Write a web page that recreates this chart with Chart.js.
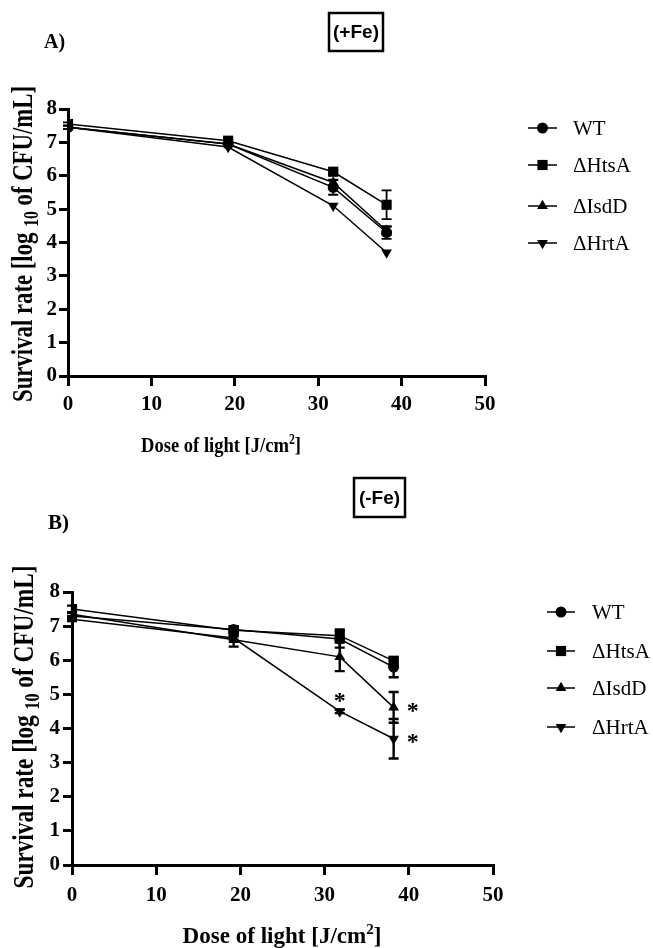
<!DOCTYPE html>
<html>
<head>
<meta charset="utf-8">
<script src="https://cdn.jsdelivr.net/npm/chart.js@4/dist/chart.umd.min.js"></script>
<style>
  html, body { margin: 0; padding: 0; background: #fff; }
  #wrap { position: relative; width: 653px; height: 948px; overflow: hidden; }
  canvas { position: absolute; left: 0; }
</style>
</head>
<body>
<div id="wrap">
  <canvas id="c1" width="653" height="470" style="top:0"></canvas>
  <canvas id="c2" width="653" height="478" style="top:470px"></canvas>
</div>
<script>
// ---------------- DATA ----------------
const doses = [0, 19.2, 31.8, 38.2];
const seriesNames = ['WT', 'ΔHtsA', 'ΔIsdD', 'ΔHrtA'];
const xTickValues = [0, 10, 20, 30, 40, 50];
const yTickValues = [0, 1, 2, 3, 4, 5, 6, 7, 8];

// (+Fe) panel A
const feWT      = [7.45, 6.95, 5.65, 4.30];
const feWTErr   = [0.05, 0.05, 0.22, 0.19];
const feHtsA    = [7.55, 7.05, 6.12, 5.13];
const feHtsAErr = [0.05, 0.05, 0.05, 0.43];
const feIsdD    = [7.45, 6.95, 5.80, 4.35];
const feIsdDErr = [0.05, 0.05, 0.08, 0.12];
const feHrtA    = [7.45, 6.86, 5.10, 3.70];
const feHrtAErr = [0.00, 0.00, 0.00, 0.00];

// (-Fe) panel B
const noFeWT      = [7.30, 6.90, 6.62, 5.80];
const noFeWTErr   = [0.10, 0.10, 0.25, 0.30];
const noFeHtsA    = [7.50, 6.88, 6.72, 5.98];
const noFeHtsAErr = [0.10, 0.05, 0.18, 0.05];
const noFeIsdD    = [7.35, 6.60, 6.10, 4.62];
const noFeIsdDErr = [0.05, 0.20, 0.42, 0.45];
const noFeHrtA    = [7.20, 6.65, 4.50, 3.70];
const noFeHrtAErr = [0.05, 0.05, 0.05, 0.58];

// significance marks: [seriesIndex, pointIndex, placement]
const sigMarksB = [[3, 2, 'above'], [2, 3, 'right'], [3, 3, 'right']];

// ---------------- STYLE ----------------
const markerStyles = [
  { pointStyle: 'circle',   radius: 5.5, rotation: 0 },
  { pointStyle: 'rect',     radius: 7.2, rotation: 0 },
  { pointStyle: 'triangle', radius: 6.2, rotation: 0 },
  { pointStyle: 'triangle', radius: 6.2, rotation: 180 }
];
const SERIF = "'Liberation Serif', 'Times New Roman', serif";
const SANS = "'Liberation Sans', Arial, sans-serif";

function drawMarker(ctx, style, x, y) {
  const r = style.radius;
  ctx.save();
  ctx.fillStyle = '#000';
  ctx.beginPath();
  if (style.pointStyle === 'circle') {
    ctx.arc(x, y, r, 0, Math.PI * 2);
  } else if (style.pointStyle === 'rect') {
    const s = Math.SQRT1_2 * r;
    ctx.rect(x - s, y - s, 2 * s, 2 * s);
  } else {
    let rad = style.rotation * Math.PI / 180;
    ctx.moveTo(x + Math.sin(rad) * r, y - Math.cos(rad) * r);
    rad += 2 * Math.PI / 3;
    ctx.lineTo(x + Math.sin(rad) * r, y - Math.cos(rad) * r);
    rad += 2 * Math.PI / 3;
    ctx.lineTo(x + Math.sin(rad) * r, y - Math.cos(rad) * r);
    ctx.closePath();
  }
  ctx.fill();
  ctx.restore();
}

function buildDatasets(values) {
  return values.map((vals, i) => ({
    label: seriesNames[i],
    data: doses.map((d, j) => ({ x: d, y: vals[j] })),
    borderColor: '#000',
    backgroundColor: '#000',
    borderWidth: 1.5,
    pointStyle: markerStyles[i].pointStyle,
    pointRadius: markerStyles[i].radius,
    pointRotation: markerStyles[i].rotation,
    pointBorderWidth: 0,
    pointBackgroundColor: '#000',
    tension: 0,
    fill: false
  }));
}

// draw a run of [text, fontSize, baselineShift] pieces, fitted to a target length
function drawRuns(ctx, runs, weight, targetLen) {
  let total = 0;
  const widths = runs.map(([t, sz]) => {
    ctx.font = weight + ' ' + sz + 'px ' + SERIF;
    const w = ctx.measureText(t).width; total += w; return w;
  });
  const k = targetLen / total;
  ctx.scale(k, 1);
  let x = -total / 2;
  ctx.textAlign = 'left';
  ctx.textBaseline = 'alphabetic';
  runs.forEach(([t, sz, dy], i) => {
    ctx.font = weight + ' ' + sz + 'px ' + SERIF;
    ctx.fillText(t, x, dy);
    x += widths[i];
  });
}

function makeOverlayPlugin(p) {
  return {
    id: 'overlay',
    beforeDatasetsDraw(chart) {
      const ctx = chart.ctx, xs = chart.scales.x, ys = chart.scales.y;
      ctx.save();
      ctx.strokeStyle = '#000';
      ctx.lineWidth = p.errWidth;
      p.values.forEach((vals, i) => {
        vals.forEach((v, j) => {
          const e = p.errors[i][j];
          if (!e) return;
          const x = xs.getPixelForValue(doses[j]);
          const y1 = ys.getPixelForValue(v + e);
          const y2 = ys.getPixelForValue(v - e);
          ctx.beginPath();
          ctx.moveTo(x, y1); ctx.lineTo(x, y2);
          ctx.moveTo(x - 5, y1); ctx.lineTo(x + 5, y1);
          ctx.moveTo(x - 5, y2); ctx.lineTo(x + 5, y2);
          ctx.stroke();
        });
      });
      ctx.restore();
    },
    afterDraw(chart) {
      const ctx = chart.ctx, xs = chart.scales.x, ys = chart.scales.y;
      ctx.save();
      ctx.fillStyle = '#000';
      ctx.strokeStyle = '#000';

      // panel letter
      ctx.font = 'bold ' + p.letterSize + 'px ' + SERIF;
      ctx.textAlign = 'left';
      ctx.textBaseline = 'middle';
      ctx.fillText(p.letter, p.letterPos[0], p.letterPos[1]);

      // boxed condition label
      const b = p.box;
      ctx.lineWidth = 2.5;
      ctx.strokeRect(b[0], b[1], b[2] - b[0], b[3] - b[1]);
      ctx.font = 'bold ' + p.boxFont + 'px ' + SANS;
      ctx.textAlign = 'center';
      ctx.fillText(p.boxText, (b[0] + b[2]) / 2, (b[1] + b[3]) / 2 + 1);

      // y axis title with subscript
      ctx.save();
      ctx.translate(p.yTitle.baseX, p.yTitle.centerY);
      ctx.rotate(-Math.PI / 2);
      const ys1 = p.yTitle.size, ys2 = Math.round(ys1 * 0.68);
      drawRuns(ctx, [['Survival rate [log ', ys1, 0], ['10', ys2, ys1 * 0.2], [' of CFU/mL]', ys1, 0]],
               'bold', p.yTitle.length);
      ctx.restore();

      // x axis title with superscript
      ctx.save();
      ctx.translate(p.xTitle.centerX, p.xTitle.baseY);
      const xs1 = p.xTitle.size, xs2 = Math.round(xs1 * 0.65);
      drawRuns(ctx, [['Dose of light [J/cm', xs1, 0], ['2', xs2, -xs1 * 0.38], [']', xs1, 0]],
               'bold', p.xTitle.length);
      ctx.restore();

      // legend
      const L = p.legend;
      seriesNames.forEach((name, i) => {
        const y = L.rows[i];
        ctx.lineWidth = 1.5;
        ctx.beginPath();
        ctx.moveTo(L.x1, y); ctx.lineTo(L.x2, y);
        ctx.stroke();
        drawMarker(ctx, markerStyles[i], (L.x1 + L.x2) / 2, y);
        ctx.font = L.size + 'px ' + SERIF;
        ctx.textAlign = 'left';
        ctx.textBaseline = 'middle';
        ctx.fillText(name, L.tx, y + 1);
      });

      // significance asterisks
      (p.sig || []).forEach(([si, pi, where]) => {
        const x = xs.getPixelForValue(doses[pi]);
        const y = ys.getPixelForValue(p.values[si][pi]);
        ctx.font = 'bold 24px ' + SERIF;
        ctx.textAlign = 'center';
        ctx.textBaseline = 'middle';
        if (where === 'above') ctx.fillText('*', x, y - 10);
        else ctx.fillText('*', x + 19, y + 4);
      });
      ctx.restore();
    }
  };
}

function makeChart(canvasId, values, errors, geo, extra) {
  const tickFont = { family: SERIF, size: 21, weight: 'bold' };
  return new Chart(document.getElementById(canvasId), {
    type: 'line',
    data: { datasets: buildDatasets(values) },
    options: {
      responsive: false,
      animation: false,
      devicePixelRatio: 1,
      layout: { padding: { top: geo.top, right: geo.right, left: 0, bottom: 0 } },
      plugins: { legend: { display: false }, tooltip: { enabled: false } },
      scales: {
        x: {
          type: 'linear', min: 0, max: 50,
          afterBuildTicks: (s) => { s.ticks = xTickValues.map(v => ({ value: v })); },
          afterFit: (s) => { s.height = geo.xHeight; },
          ticks: { color: '#000', font: tickFont, padding: geo.xPad, maxRotation: 0 },
          grid: { display: true, drawOnChartArea: false, drawTicks: true, tickLength: 10, lineWidth: 3, color: '#000' },
          border: { display: true, width: 3, color: '#000' }
        },
        y: {
          type: 'linear', min: 0, max: 8,
          afterBuildTicks: (s) => { s.ticks = yTickValues.map(v => ({ value: v })); },
          afterFit: (s) => { s.width = geo.yWidth; },
          ticks: { color: '#000', font: tickFont, padding: geo.yPad },
          grid: { display: true, drawOnChartArea: false, drawTicks: true, tickLength: 9, lineWidth: 3, color: '#000' },
          border: { display: true, width: 3, color: '#000' }
        }
      }
    },
    plugins: [makeOverlayPlugin(Object.assign({ values, errors }, extra))]
  });
}

makeChart('c1',
  [feWT, feHtsA, feIsdD, feHrtA],
  [feWTErr, feHtsAErr, feIsdDErr, feHrtAErr],
  { top: 109, right: 168, xHeight: 94, yWidth: 68, xPad: 6, yPad: 2 },
  {
    errWidth: 1.8,
    letter: 'A)', letterSize: 20, letterPos: [44, 43],
    box: [329, 13, 383, 51], boxText: '(+Fe)', boxFont: 19,
    yTitle: { baseX: 32, centerY: 244, size: 29, length: 316 },
    xTitle: { centerX: 221, baseY: 452, size: 22, length: 160 },
    legend: { x1: 528, x2: 557, tx: 573, size: 21, rows: [128, 165, 206, 243] },
    sig: []
  });

makeChart('c2',
  [noFeWT, noFeHtsA, noFeIsdD, noFeHrtA],
  [noFeWTErr, noFeHtsAErr, noFeIsdDErr, noFeHrtAErr],
  { top: 122, right: 160, xHeight: 83, yWidth: 72, xPad: 8, yPad: 3 },
  {
    errWidth: 2.4,
    letter: 'B)', letterSize: 21, letterPos: [48, 54],
    box: [354, 8, 405, 47], boxText: '(-Fe)', boxFont: 19,
    yTitle: { baseX: 33, centerY: 257, size: 29, length: 323 },
    xTitle: { centerX: 282, baseY: 473, size: 23, length: 199 },
    legend: { x1: 547, x2: 575, tx: 592, size: 21, rows: [142, 181, 218, 257] },
    sig: sigMarksB
  });
</script>
</body>
</html>
